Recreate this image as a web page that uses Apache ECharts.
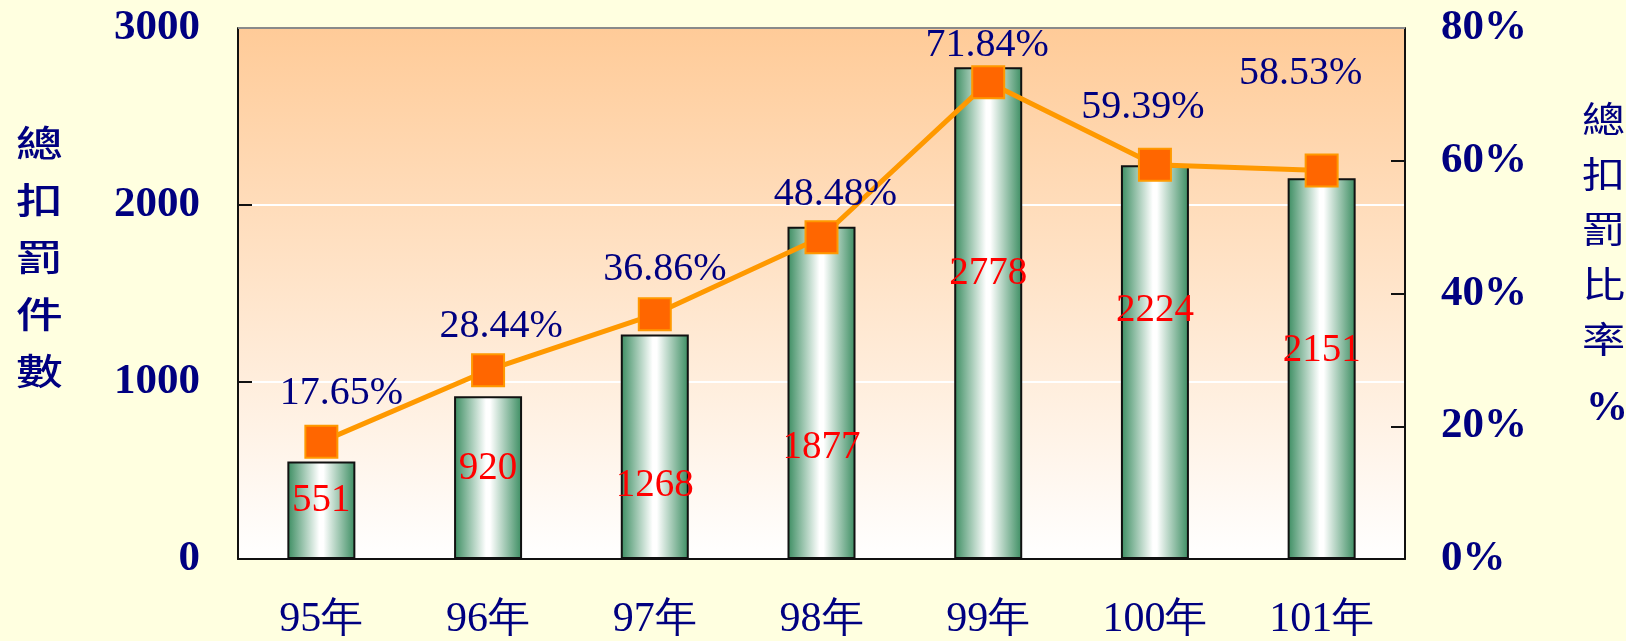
<!DOCTYPE html>
<html>
<head>
<meta charset="utf-8">
<script src="https://cdn.jsdelivr.net/npm/echarts@6/dist/echarts.min.js"></script>
<style>
  html, body { margin: 0; padding: 0; background: #FFFFE0; }
  #chart { width: 1626px; height: 641px; }
</style>
</head>
<body>
<div id="chart"></div>
<script>
// data
var years = ['95年', '96年', '97年', '98年', '99年', '100年', '101年'];
var penaltyCounts = [551, 920, 1268, 1877, 2778, 2224, 2151];
var penaltyRates = [17.65, 28.44, 36.86, 48.48, 71.84, 59.39, 58.53];

// label nudges (px) so the labels sit where the original put them
var countLabelShift = [15, 48, 127, 196, 182, 121, 148];
var rateLabelShift = [[20, -6], [13, -2], [10, -3], [14, -1], [-1, 5], [-12, -15], [-21, -55]];

var serif = '"Times New Roman", "Liberation Serif", serif';
var navy = '#000080';
var cjk = '36px "Noto Sans CJK TC", sans-serif';

var myChart = echarts.init(document.getElementById('chart'));

var option = {
  backgroundColor: '#FFFFE0',
  animation: false,
  grid: {
    left: 238, top: 28, right: 221, bottom: 79,
    show: true,
    borderWidth: 0,
    backgroundColor: new echarts.graphic.LinearGradient(0, 0, 0, 1, [
      { offset: 0, color: '#FFCB98' },
      { offset: 1, color: '#FFFFFF' }
    ])
  },
  graphic: [
    {
      type: 'line', z: 10,
      shape: { x1: 238, y1: 28, x2: 1405, y2: 28 },
      style: { stroke: '#8a8a8a', lineWidth: 2 }
    },
    {
      type: 'text', x: 16, y: 115, scaleX: 1.3,
      style: {
        text: '總\n扣\n罰\n件\n數', fill: navy, lineHeight: 57,
        font: '500 ' + cjk
      }
    },
    {
      type: 'text', x: 1582, y: 92, scaleX: 1.2,
      style: {
        text: '總\n扣\n罰\n比\n率', fill: navy, lineHeight: 55,
        font: cjk
      }
    },
    {
      type: 'text', x: 1586, y: 388,
      style: { text: '%', fill: navy, font: 'bold 42px ' + serif }
    }
  ],
  xAxis: {
    type: 'category',
    data: years,
    axisLine: { lineStyle: { color: '#111', width: 2 } },
    axisTick: { inside: true, length: 12, lineStyle: { color: '#111', width: 2 } },
    axisLabel: { color: navy, fontFamily: serif, fontSize: 42, margin: 40 }
  },
  yAxis: [
    {
      type: 'value', min: 0, max: 3000, interval: 1000,
      axisLine: { show: true, lineStyle: { color: '#111', width: 2 } },
      axisTick: { show: true, inside: true, length: 14, lineStyle: { color: '#111', width: 2 } },
      splitLine: { show: true, lineStyle: { color: '#ffffff', width: 2 } },
      axisLabel: {
        color: navy, fontFamily: serif, fontWeight: 'bold', fontSize: 43, margin: 38,
        formatter: function (v) { return String(v); }
      }
    },
    {
      type: 'value', min: 0, max: 80, interval: 20,
      axisLine: { show: true, lineStyle: { color: '#111', width: 2 } },
      axisTick: { show: true, inside: true, length: 14, lineStyle: { color: '#111', width: 2 } },
      splitLine: { show: false },
      axisLabel: {
        color: navy, fontFamily: serif, fontWeight: 'bold', fontSize: 43, margin: 36,
        formatter: '{value}%'
      }
    }
  ],
  series: [
    {
      type: 'bar',
      data: penaltyCounts.map(function (v, i) {
        return { value: v, label: { offset: [0, countLabelShift[i]] } };
      }),
      barWidth: 68,
      itemStyle: {
        borderColor: '#111',
        borderWidth: 2,
        color: new echarts.graphic.LinearGradient(0, 0, 1, 0, [
          { offset: 0, color: '#3a8c60' },
          { offset: 0.47, color: '#ffffff' },
          { offset: 0.53, color: '#ffffff' },
          { offset: 1, color: '#3a8c60' }
        ])
      },
      label: {
        show: true, position: 'insideTop', color: '#ff0000',
        fontFamily: serif, fontSize: 39
      }
    },
    {
      type: 'line',
      yAxisIndex: 1,
      data: penaltyRates.map(function (v, i) {
        return { value: v, label: { offset: rateLabelShift[i] } };
      }),
      lineStyle: { color: '#FF9900', width: 5 },
      symbol: 'rect',
      symbolSize: 32,
      itemStyle: { color: '#FF6600', borderColor: '#FF9900', borderWidth: 2 },
      label: {
        show: true, position: 'top', color: navy, fontFamily: serif, fontSize: 40,
        formatter: '{c}%'
      },
      z: 5
    }
  ]
};

option && myChart.setOption(option);
</script>
</body>
</html>
